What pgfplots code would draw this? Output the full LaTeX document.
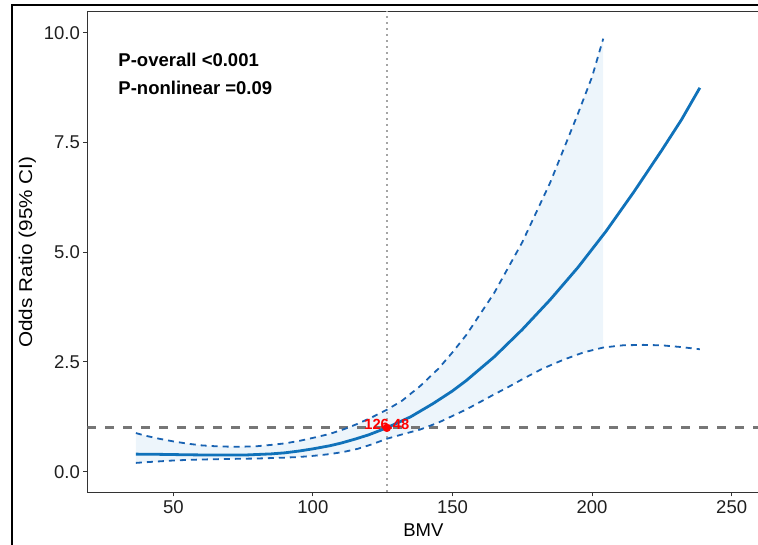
\documentclass[border=0pt]{standalone}
\usepackage{pgfplots}
\pgfplotsset{compat=1.18}
\usepgfplotslibrary{fillbetween}
\usepackage{fontspec}
\setmainfont{Liberation Sans}

\definecolor{mainblue}{RGB}{16,114,186}
\definecolor{ciblue}{RGB}{24,98,178}
\definecolor{ribbon}{RGB}{237,245,251}
\definecolor{refgray}{RGB}{118,118,118}
\definecolor{vgray}{RGB}{165,165,165}
\definecolor{frame}{RGB}{51,51,51}

% restricted cubic spline fit: odds ratio and 95% CI
\pgfplotstableread{
x      or
36.6   0.400
45     0.395
55     0.385
65     0.378
75     0.378
85     0.405
90     0.43
95     0.47
100    0.52
106    0.59
110    0.65
115    0.74
120    0.84
126.48 1.00
135    1.25
143    1.55
150    1.84
155    2.08
165    2.62
175    3.24
185    3.92
195    4.66
205    5.48
215    6.38
225    7.33
232    8.02
238.6  8.75
}\fitdata

\pgfplotstableread{
x      up
36.6   0.88
40     0.82
45     0.75
50     0.69
55     0.64
60     0.60
65     0.58
70     0.57
75     0.57
80     0.58
85     0.61
90     0.645
95     0.70
100    0.77
106    0.86
111    0.965
116    1.09
121    1.235
126.48 1.41
132    1.62
138.4  1.95
145    2.35
150    2.72
155    3.12
165    4.08
175    5.23
185    6.59
195    8.17
200    9.00
204    9.87
}\updata

\pgfplotstableread{
x      lo
36.6   0.20
40     0.215
45     0.235
50     0.255
55     0.268
60     0.277
65     0.284
70     0.29
75     0.295
80     0.30
85     0.31
90     0.32
95     0.335
100    0.36
106    0.40
111    0.45
116    0.52
121    0.62
126.48 0.75
132    0.85
138.4  0.96
145    1.12
150    1.27
155    1.42
164.6  1.75
170    1.93
175.4  2.12
182    2.34
189.7  2.55
197    2.72
204    2.83
211    2.88
218.3  2.89
225    2.88
232    2.84
238.6  2.79
}\lodata

\begin{document}
\begin{tikzpicture}
\begin{axis}[
    at={(87.3pt,52.7pt)}, anchor=south west,
    scale only axis,
    width=672pt, height=480.3pt,
    xmin=19.2, xmax=259.9,
    ymin=-0.47, ymax=10.478,
    xtick={50,100,150,200,250},
    ytick={0,2.5,5,7.5,10},
    xtick pos=bottom, ytick pos=left,
    tick align=outside,
    major tick length=4pt,
    tick style={frame, line width=1pt},
    axis line style={frame, line width=1pt},
    /pgf/number format/assume math mode=true,
    yticklabel style={/pgf/number format/fixed, /pgf/number format/fixed zerofill,
        /pgf/number format/precision=1, inner sep=3.3pt},
    xticklabel style={inner sep=4.4pt},
    every tick label/.append style={font=\fontsize{18.5}{22}\selectfont, text=black!88},
    xlabel={BMV},
    ylabel={Odds Ratio (95\% CI)},
    every axis x label/.style={at={(axis description cs:0.5,-0.0779)}, anchor=center,
        font=\fontsize{18.5}{22}\selectfont},
    every axis y label/.style={at={(axis description cs:-0.0893,0.5)}, rotate=90, xscale=1.12,
        anchor=center, font=\fontsize{18.5}{22}\selectfont},
]
    \addplot[draw=none, name path=up] table[x=x, y=up] {\updata};
    \addplot[draw=none, name path=lo] table[x=x, y=lo] {\lodata};
    \addplot[ribbon] fill between[of=up and lo, soft clip={domain=36.6:204}];

    \addplot[vgray, line width=1.5pt, dash pattern=on 1.5pt off 4.5pt]
        coordinates {(126.48,-1) (126.48,12)};
    \addplot[refgray, line width=3pt, dash pattern=on 8.5pt off 9.5pt]
        coordinates {(19.2,1) (259.9,1)};

    \addplot[ciblue, line width=1.8pt, dash pattern=on 6pt off 5pt] table[x=x, y=up] {\updata};
    \addplot[ciblue, line width=1.8pt, dash pattern=on 6pt off 5pt] table[x=x, y=lo] {\lodata};
    \addplot[mainblue, line width=2.8pt] table[x=x, y=or] {\fitdata};

    \addplot[only marks, mark=*, mark size=4pt, color=red] coordinates {(126.48,1)};
    \node[text=red, font=\bfseries\fontsize{14.7}{16}\selectfont, yshift=3.7pt]
        at (axis cs:126.48,1) {126.48};

    \node[anchor=base west, inner sep=0pt, font=\bfseries\fontsize{18.5}{22}\selectfont]
        at (axis cs:30.3,9.232) {P-overall <0.001};
    \node[anchor=base west, inner sep=0pt, font=\bfseries\fontsize{18.5}{22}\selectfont]
        at (axis cs:30.3,8.603) {P-nonlinear =0.09};
\end{axis}
\draw[line width=2.2pt, black] (12pt,-10pt) -- (12pt,540pt) -- (780pt,540pt);
\pgfresetboundingbox
\path[use as bounding box] (0pt,0pt) rectangle (758pt,545pt);
\end{tikzpicture}
\end{document}
